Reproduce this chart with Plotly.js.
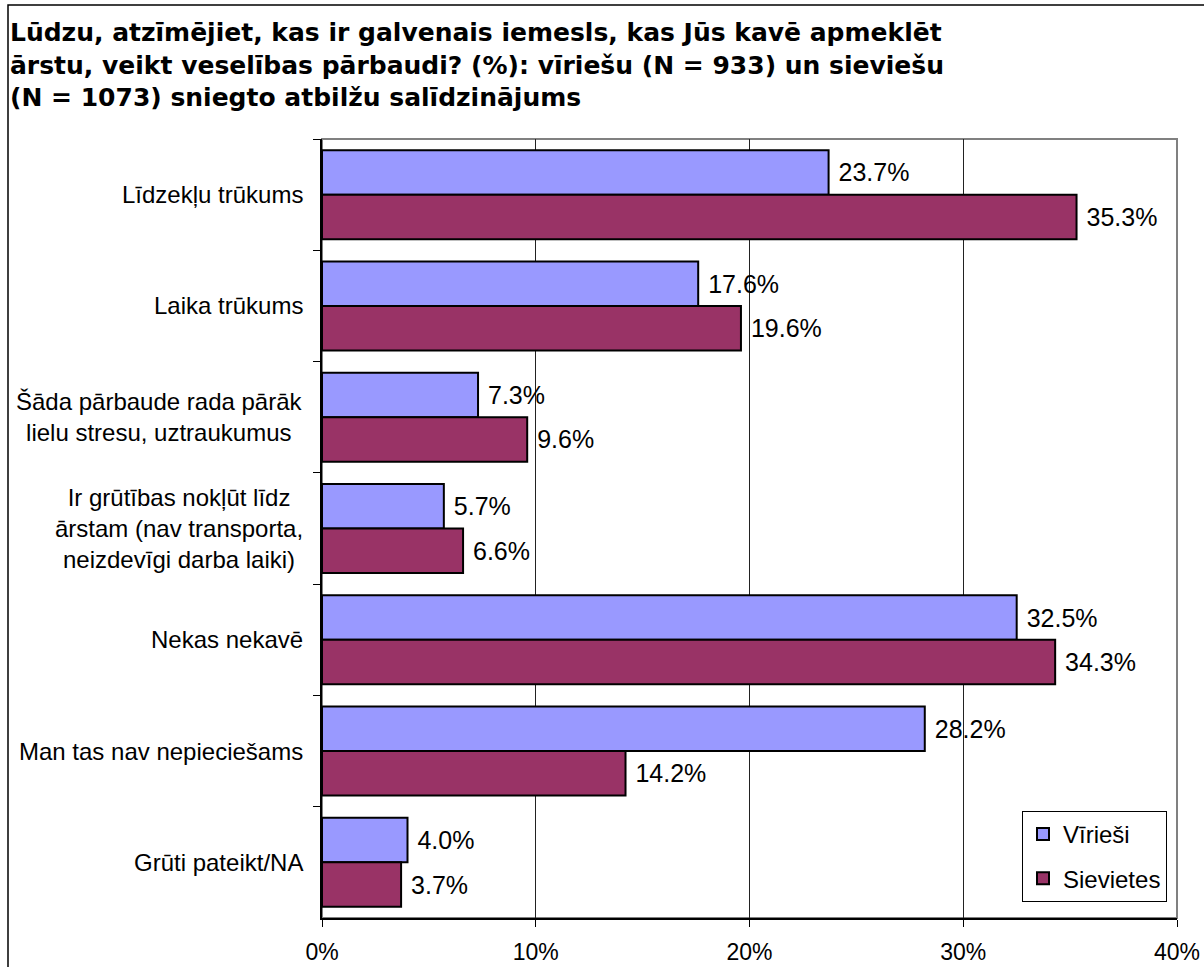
<!DOCTYPE html>
<html>
<head>
<meta charset="utf-8">
<script src="https://cdn.plot.ly/plotly-3.0.1.min.js"></script>
<style>html,body{margin:0;padding:0;background:#fff;}</style>
</head>
<body>
<div id="chart" style="width:1204px;height:967px;"></div>
<script>
const categories = [
  "Līdzekļu trūkums",
  "Laika trūkums",
  "Šāda pārbaude rada pārāk<br>lielu stresu, uztraukumus",
  "Ir grūtības nokļūt līdz<br>ārstam (nav transporta,<br>neizdevīgi darba laiki)",
  "Nekas nekavē",
  "Man tas nav nepieciešams",
  "Grūti pateikt/NA"
];
const men = [23.7, 17.6, 7.3, 5.7, 32.5, 28.2, 4.0];
const women = [35.3, 19.6, 9.6, 6.6, 34.3, 14.2, 3.7];
const seriesNames = ["Vīrieši", "Sievietes"];
const xTicks = [0, 10, 20, 30, 40];
const titleText = "Lūdzu, atzīmējiet, kas ir galvenais iemesls, kas Jūs kavē apmeklēt<br>ārstu, veikt veselības pārbaudi? (%): vīriešu (N = 933) un sieviešu<br>(N = 1073) sniegto atbilžu salīdzinājums";

const FONT = "Liberation Sans, Arial, sans-serif";

function barTrace(vals, name, color, group) {
  return {
    type: 'bar', orientation: 'h',
    x: vals, y: categories, name: name,
    legendgroup: group,
    marker: {color: color, line: {color: '#000', width: 2}},
    text: vals.map(v => '\u00a0' + v.toFixed(1) + '%'),
    texttemplate: '%{text}',
    textposition: 'outside',
    textfont: {family: FONT, size: 25, color: '#000'},
    constraintext: 'none',
    cliponaxis: false,
    hoverinfo: 'x+y'
  };
}

const data = [
  barTrace(men, seriesNames[0], '#9999FF', 'a'),
  barTrace(women, seriesNames[1], '#993366', 'b')
];

const L = 322, R = 27, T = 139, B = 49;
const W = 1204 - L - R, H = 967 - T - B;
const px = x => (x - L) / W;

const annotations = categories.map(c => ({
  text: c, x: px(305), xref: 'paper', xanchor: 'right',
  y: c, yref: 'y', yanchor: 'middle', align: 'center',
  showarrow: false, font: {family: FONT, size: 24, color: '#000'}
}));

const layout = {
  width: 1204, height: 967,
  margin: {l: L, r: R, t: T, b: B, pad: 0},
  paper_bgcolor: '#fff', plot_bgcolor: '#fff',
  font: {family: FONT, size: 24, color: '#000'},
  title: {
    text: titleText, xref: 'container', yref: 'container',
    x: 10 / 1204, xanchor: 'left', y: 1 - 41 / 967, yanchor: 'top',
    font: {family: "DejaVu Sans, sans-serif", size: 25, color: '#000', weight: 'bold'}
  },
  barmode: 'group', bargap: 0.2, bargroupgap: 0,
  xaxis: {
    range: [0, 40], tickvals: xTicks, ticktext: xTicks.map(v => v + '%'),
    showgrid: true, gridcolor: '#222', gridwidth: 1,
    zeroline: false, showline: true, linecolor: '#000', linewidth: 2,
    ticks: 'outside', ticklen: 7, tickcolor: '#000', tickwidth: 1,
    tickfont: {family: FONT, size: 23, color: '#000'},
    ticklabelstandoff: 5, fixedrange: true
  },
  yaxis: {
    type: 'category', autorange: 'reversed',
    showticklabels: false, showgrid: false, zeroline: false,
    showline: true, linecolor: '#000', linewidth: 2,
    ticks: 'outside', ticklen: 7, tickcolor: '#000', tickwidth: 1,
    tickson: 'boundaries', fixedrange: true
  },
  showlegend: true,
  legend: {
    x: px(1167), xanchor: 'right', y: (918 - 902) / H, yanchor: 'bottom',
    bgcolor: '#fff', bordercolor: '#000', borderwidth: 1,
    font: {family: FONT, size: 24, color: '#000'},
    traceorder: 'grouped', tracegroupgap: 10, itemwidth: 30
  },
  annotations: annotations,
  shapes: [
    {type: 'rect', xref: 'paper', yref: 'paper', x0: 0, x1: 1, y0: 0, y1: 1,
     line: {color: '#808080', width: 2}, fillcolor: 'rgba(0,0,0,0)', layer: 'below'},
    {type: 'rect', xref: 'paper', yref: 'paper', x0: px(8), x1: 1.2, y0: -0.2, y1: 1 + (T - 5) / H,
     line: {color: '#000', width: 1.5}, fillcolor: 'rgba(0,0,0,0)', layer: 'below'}
  ]
};

Plotly.newPlot('chart', data, layout, {displayModeBar: false, staticPlot: true});
</script>
</body>
</html>
